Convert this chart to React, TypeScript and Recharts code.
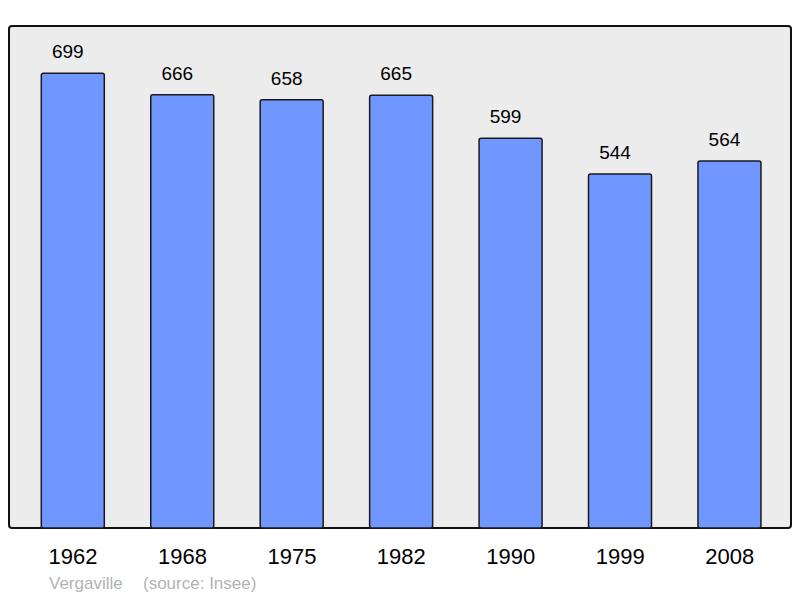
import React from 'react';
import { BarChart, Bar, XAxis, YAxis, LabelList } from 'recharts';

const years = ['1962', '1968', '1975', '1982', '1990', '1999', '2008'];
const population = [699, 666, 658, 665, 599, 544, 564];

const data = years.map((year, i) => ({ year, value: population[i] }));

const FONT = '"Liberation Sans", Arial, sans-serif';

const App: React.FC = () => {
  return (
    <div style={{ position: 'absolute', left: 0, top: 0, width: 800, height: 598, background: '#fff', fontFamily: FONT }}>
      {/* plot frame */}
      <div
        style={{
          position: 'absolute',
          left: 8,
          top: 25,
          width: 780,
          height: 500,
          background: '#ececec',
          border: '2px solid #111',
          borderRadius: 4,
        }}
      />
      <div style={{ position: 'absolute', left: 0, top: 0 }}>
        <BarChart
          width={800}
          height={598}
          data={data}
          margin={{ top: 27, right: 15.6, bottom: 0, left: 18.3 }}
        >
          <YAxis hide domain={[0, 770]} />
          <XAxis
            dataKey="year"
            axisLine={false}
            tickLine={false}
            tickSize={0}
            tickMargin={20}
            height={70}
            interval={0}
            tick={{ fill: '#000', fontSize: 22, fontFamily: FONT }}
          />
          <Bar
            dataKey="value"
            fill="#7097ff"
            stroke="#1a1a1a"
            strokeWidth={1.5}
            barSize={63}
            radius={2}
            isAnimationActive={false}
          >
            <LabelList
              dataKey="value"
              position="top"
              offset={15}
              dx={-5}
              style={{ fill: '#000', fontSize: 19, fontFamily: FONT }}
            />
          </Bar>
        </BarChart>
      </div>
      {/* source footer */}
      <div style={{ position: 'absolute', left: 49, top: 574, fontSize: 17, color: '#b3b3b3', whiteSpace: 'nowrap' }}>
        Vergaville
      </div>
      <div style={{ position: 'absolute', left: 143, top: 574, fontSize: 17, color: '#b3b3b3', whiteSpace: 'nowrap' }}>
        (source: Insee)
      </div>
    </div>
  );
};

export default App;
